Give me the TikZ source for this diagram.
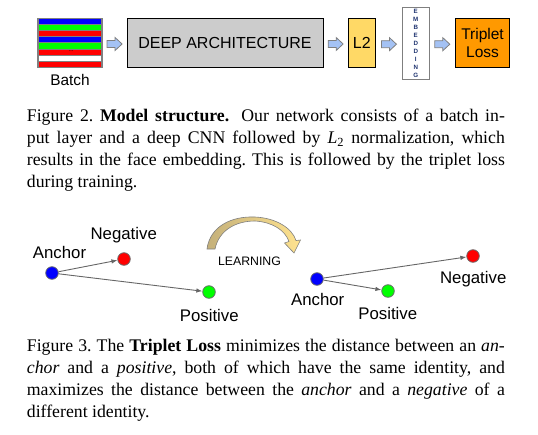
\documentclass[tikz,border=0pt]{standalone}
\usepackage{fontspec}
\setmainfont{Liberation Serif}
\newfontfamily\arialf{Liberation Sans}
\usetikzlibrary{arrows.meta,calc}
\definecolor{sblue}{HTML}{0000FF}
\definecolor{sgreen}{HTML}{00FF00}
\definecolor{sred}{HTML}{FF0000}
\definecolor{stripegray}{HTML}{808080}
\definecolor{deepgray}{HTML}{CCCCCC}
\definecolor{ltwoyellow}{HTML}{FFD966}
\definecolor{lossorange}{HTML}{FF9900}
\definecolor{blkblue}{HTML}{A4C2F4}
\definecolor{blkgray}{HTML}{7F7F7F}
\definecolor{embtext}{HTML}{1F3470}
\definecolor{dotgray}{HTML}{6B6B6B}
\definecolor{linkgray}{HTML}{666666}
\definecolor{arcdark}{HTML}{C4B07A}
\definecolor{arclight}{HTML}{FFE38F}
\newcommand\blkarrow[1]{\path[blk] ($(#1)+(-7.5,-3.5)$) -- ++(8,0) -- ++(0,-3) -- ++(7,6.5) -- ++(-7,6.5) -- ++(0,-3) -- ++(-8,0) -- cycle;}
\begin{document}
\begin{tikzpicture}[x=1pt,y=-1pt,
  box/.style={draw, line width=0.9pt, inner sep=0pt, font=\arialf\fontsize{16}{18.5}\selectfont},
  lbl/.style={font=\arialf\fontsize{16.8}{18}\selectfont, inner sep=0pt, anchor=base},
  dot/.style={circle, minimum size=12.6pt, inner sep=0pt, draw=dotgray, line width=0.8pt},
  link/.style={draw=linkgray, line width=0.9pt, -{Latex[length=6pt,width=4.5pt]}},
  blk/.style={draw=blkgray, fill=blkblue, line width=0.8pt, line join=miter},
  captext/.style={text width=478pt, align=justify, inner sep=0pt, anchor=north west, font=\fontsize{17.75}{21.8}\selectfont\frenchspacing}]
\useasboundingbox (0,0) rectangle (538,434);
% ---- Figure 2: model structure
\foreach \c [count=\i from 0] in {sblue,sgreen,sred,sblue,sgreen,sred,white,sred}
  \filldraw[fill=\c, draw=stripegray, line width=0.8pt] (38,{18.3+\i*6.125}) rectangle (102,{18.3+(\i+1)*6.125});
\node[inner sep=0pt, font=\fontsize{6}{6}\selectfont] (dots) at (71.2,51.2) {...};
\node[draw=stripegray, line width=1.2pt, minimum width=64pt, minimum height=49pt, inner sep=0pt] (batch) at (70,42.8) {};
\node[lbl, font=\arialf\fontsize{15.4}{18}\selectfont] (batchlbl) at (70,85) {Batch};
\node[box, fill=deepgray, minimum width=196pt, minimum height=49pt] (deep) at (225,42.8) {DEEP ARCHITECTURE};
\node[box, fill=ltwoyellow, minimum width=27pt, minimum height=49pt] (ltwo) at (361.8,42.8) {L2};
\node[box, draw=blkgray, fill=white, minimum width=26.3pt, minimum height=71.7pt, align=center,
  font=\arialf\bfseries\fontsize{6.2}{8}\selectfont, text=embtext] (emb) at (415.8,43.2)
  {E\\M\\B\\E\\D\\D\\I\\N\\G};
\node[box, fill=lossorange, minimum width=53.6pt, minimum height=49pt, align=center,
  font=\arialf\fontsize{15.5}{18.4}\selectfont] (loss) at (482.5,42.8) {Triplet\\Loss};
\coordinate (m1) at ($(batch.east)!.5!(deep.west)+(0,1.2)$);
\coordinate (m2) at ($(deep.east)!.5!(ltwo.west)+(0,1.2)$);
\coordinate (m3) at ($(ltwo.east)!.5!(emb.west)+(0,1.2)$);
\coordinate (m4) at ($(emb.east)!.5!(loss.west)+(0,1.2)$);
\blkarrow{m1}\blkarrow{m2}\blkarrow{m3}\blkarrow{m4}
\node[captext] (cap1) at (26.7,106.5) {\strut Figure 2. \textbf{Model structure.}\hspace{0.3em} Our network consists of a batch in-\linebreak put layer and a deep CNN followed by \textit{L}\textsubscript{2} normalization, which\linebreak results in the face embedding. This is followed by the triplet loss\linebreak during training.};
% ---- Figure 3: triplet loss
\node[dot, fill=sblue] (a1) at (52,273) {};
\node[dot, fill=sred] (n1) at (124,259) {};
\node[dot, fill=sgreen] (p1) at (209,292) {};
\draw[link] (a1) -- (n1);
\draw[link] (a1) -- (p1);
\node[lbl] (la1) at (59.5,258) {Anchor};
\node[lbl] (ln1) at (123.7,239) {Negative};
\node[lbl] (lp1) at (209.3,321.7) {Positive};
\node[dot, fill=sblue] (a2) at (317,279) {};
\node[dot, fill=sgreen] (p2) at (388,291) {};
\node[dot, fill=sred] (n2) at (473,256) {};
\draw[link] (a2) -- (n2);
\draw[link] (a2) -- (p2);
\node[lbl] (la2) at (317.7,305) {Anchor};
\node[lbl] (lp2) at (387.8,319) {Positive};
\node[lbl] (ln2) at (473.2,283) {Negative};
\path[draw=blkgray, line width=0.6pt, left color=arcdark, right color=arclight, line join=miter]
  (207,249) .. controls (210,226) and (232,216) .. (255,217)
  .. controls (276,218) and (292,228) .. (296,240.5)
  -- (300.5,240) -- (294,253) -- (284.5,243) -- (289,241.5)
  .. controls (285,230) and (272,222) .. (255,221)
  .. controls (236,221) and (219,230) .. (215,249) -- cycle;
\node[lbl, font=\arialf\fontsize{12.3}{14}\selectfont] (learn) at (249.5,265) {LEARNING};
\node[captext] (cap2) at (26.7,336.5) {\strut Figure 3. The \textbf{Triplet Loss} minimizes the distance between an \textit{an-}\linebreak \textit{chor} and a \textit{positive}, both of which have the same identity, and\linebreak maximizes the distance between the \textit{anchor} and a \textit{negative} of a\linebreak different identity.};
\end{tikzpicture}
\end{document}
